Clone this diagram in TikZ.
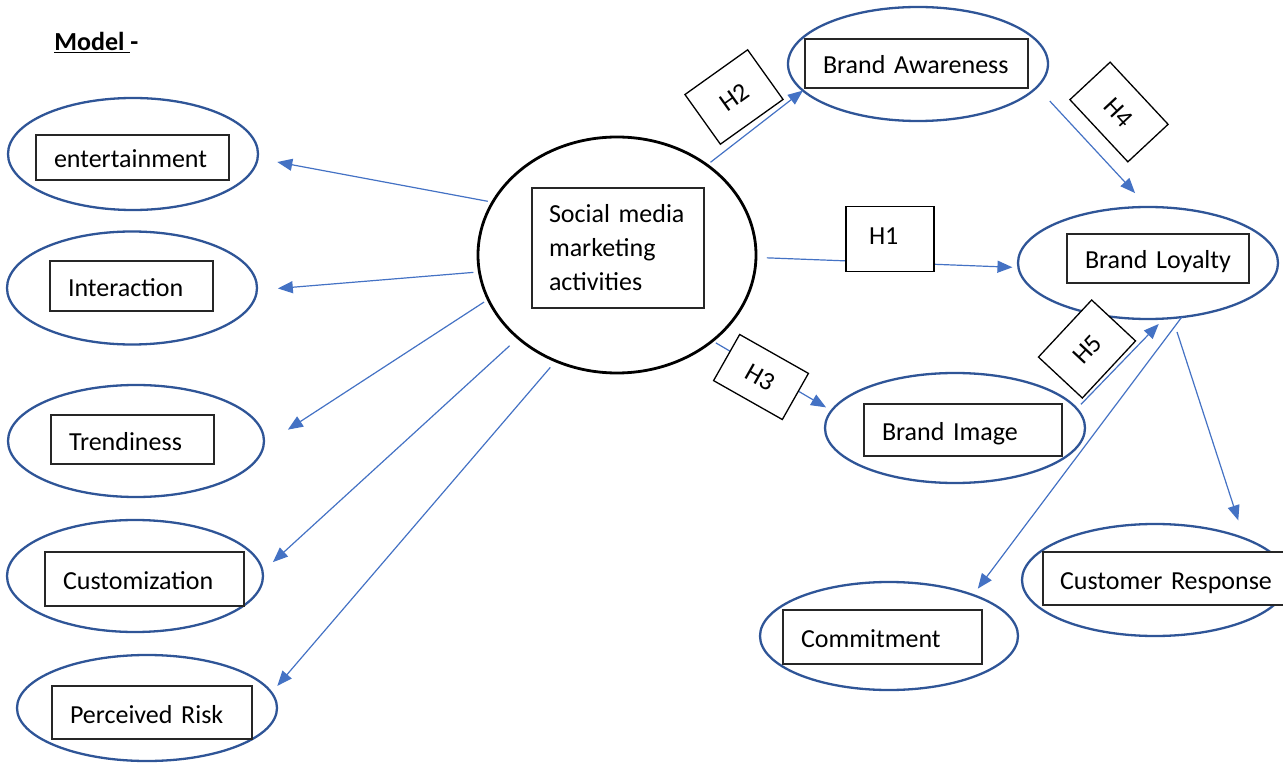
\documentclass[tikz,border=0pt]{standalone}
\usepackage{fontspec}
\setmainfont{Carlito}
\usetikzlibrary{shapes.geometric,arrows.meta}
\definecolor{ringblue}{HTML}{2F5597}
\definecolor{linkblue}{HTML}{4472C4}
\begin{document}
\begin{tikzpicture}[x=1pt,y=-1pt,
  every node/.style={font=\fontsize{26}{34}\selectfont, outer sep=0pt},
  ring/.style={ellipse, draw=ringblue, line width=2.3pt, inner sep=0pt},
  core/.style={ellipse, draw=black, line width=2.8pt, inner sep=0pt},
  lbl/.style={rectangle, draw=black!85, line width=1.3pt, fill=white, align=left,
    inner xsep=18pt, inner ysep=0pt, text height=21pt, text depth=0pt},
  hbox/.style={rectangle, draw=black, line width=1.3pt, fill=white, inner sep=0pt,
    text height=18pt, text depth=0pt},
  link/.style={draw=linkblue, line width=1.2pt, -{Triangle[length=15pt,width=12pt]}}
]
\useasboundingbox (0,0) rectangle (1283,767);
\clip (0,0) rectangle (1283,767);

% heading
\node[anchor=base west, font=\fontsize{26}{34}\selectfont\bfseries] (title) at (51,51) {\underline{Model\ }-};

% construct ellipses
\node[ring, minimum width=250pt, minimum height=112pt] (ent)   at (133,154) {};
\node[ring, minimum width=250pt, minimum height=113pt] (int)   at (132,288) {};
\node[ring, minimum width=256pt, minimum height=112pt] (trend) at (136,441) {};
\node[ring, minimum width=256pt, minimum height=112pt] (cust)  at (135,576) {};
\node[ring, minimum width=260pt, minimum height=106pt] (risk)  at (147,708) {};
\node[core, minimum width=278pt, minimum height=236pt] (smm)   at (617,255) {};
\node[ring, minimum width=260pt, minimum height=114pt] (BA)    at (918,64) {};
\node[ring, minimum width=260pt, minimum height=112pt] (BL)    at (1148,263) {};
\node[ring, minimum width=260pt, minimum height=110pt] (BI)    at (955,428) {};
\node[ring, minimum width=266pt, minimum height=112pt] (CR)    at (1155,580) {};
\node[ring, minimum width=258pt, minimum height=108pt] (Com)   at (889,636) {};

% label boxes
\node[lbl, text width=157pt, minimum height=45pt] (entbox)   at (132.5,157.5) {entertainment};
\node[lbl, text width=127pt, minimum height=50pt] (intbox)   at (131.5,286) {Interaction};
\node[lbl, text width=127pt, minimum height=49pt] (trendbox) at (132.5,439.5) {Trendiness};
\node[lbl, text width=163pt, minimum height=54pt] (custbox)  at (144.5,579) {Customization};
\node[lbl, text width=164pt, minimum height=53pt] (riskbox)  at (152,712.5) {Perceived Risk};
\node[rectangle, draw=black!85, line width=1.3pt, fill=white, align=left,
  inner xsep=17pt, inner ysep=0pt, text width=138pt, minimum height=120pt]
  (smmbox) at (618,248) {Social media\\marketing\\activities};
\node[lbl, text width=187pt, minimum height=49pt] (BAbox)  at (916.5,63.5) {Brand Awareness};
\node[lbl, text width=146pt, minimum height=49pt] (BLbox)  at (1158,258.5) {Brand Loyalty};
\node[lbl, text width=162pt, minimum height=52pt] (BIbox)  at (963,430) {Brand Image};
\node[lbl, text width=163pt, minimum height=54pt] (Combox) at (882.5,637) {Commitment};
\node[lbl, text width=222pt, minimum height=53pt, inner xsep=17pt] (CRbox) at (1171,578.5) {Customer Response};

% connectors from the core construct to its dimensions
\draw[link, shorten <=5pt, shorten >=20pt] (smm.157.8) -- (ent.-2);
\draw[link, shorten <=6pt, shorten >=21pt] (smm.187.6) -- (int.-1);
\draw[link, shorten <=5pt, shorten >=29pt] (smm.199.8) -- (trend.-2);
\draw[link, shorten <=11.6pt, shorten >=14pt] (smm.220.4) -- (cust.2);
\draw[link, shorten <=8.5pt, shorten >=9pt] (smm.240.7) -- (risk.7);

% hypothesis paths
\draw[link, shorten <=4.5pt] (smm.45.6) -- (BA.193);
\draw[link, shorten <=11pt, shorten >=6pt] (smm.-1.1) -- (BL.182);
\draw[link, shorten <=4pt, shorten >=6.5pt] (smm.-42.2) -- (BI.172.8);
\draw[link, shorten <=19pt, shorten >=19pt] (BA.-11) -- (BL.90);
\draw[link, shorten <=6pt, shorten >=7.5pt] (BI.9.6) -- (BL.-74.6);
\draw[link, shorten >=8pt] (BL.-58) -- (Com.26.3);
\draw[link, shorten <=14.7pt, shorten >=19pt] (BL.-66) -- (CR.25.3);

% hypothesis tags
\node[hbox, minimum width=77pt, minimum height=61pt, rotate=35.5] (H2) at (734,97) {H2};
\node[hbox, minimum width=85pt, minimum height=55pt, rotate=-47] (H4) at (1119,112) {H4};
\node[hbox, minimum width=88pt, minimum height=65pt, align=left, inner xsep=23pt,
  text width=42pt, text depth=6pt] (H1) at (890,239) {H1};
\node[hbox, minimum width=79pt, minimum height=53pt, rotate=-29.5] (H3) at (761,377) {H3};
\node[hbox, minimum width=78pt, minimum height=60pt, rotate=47] (H5) at (1087,349) {H5};
\end{tikzpicture}
\end{document}
